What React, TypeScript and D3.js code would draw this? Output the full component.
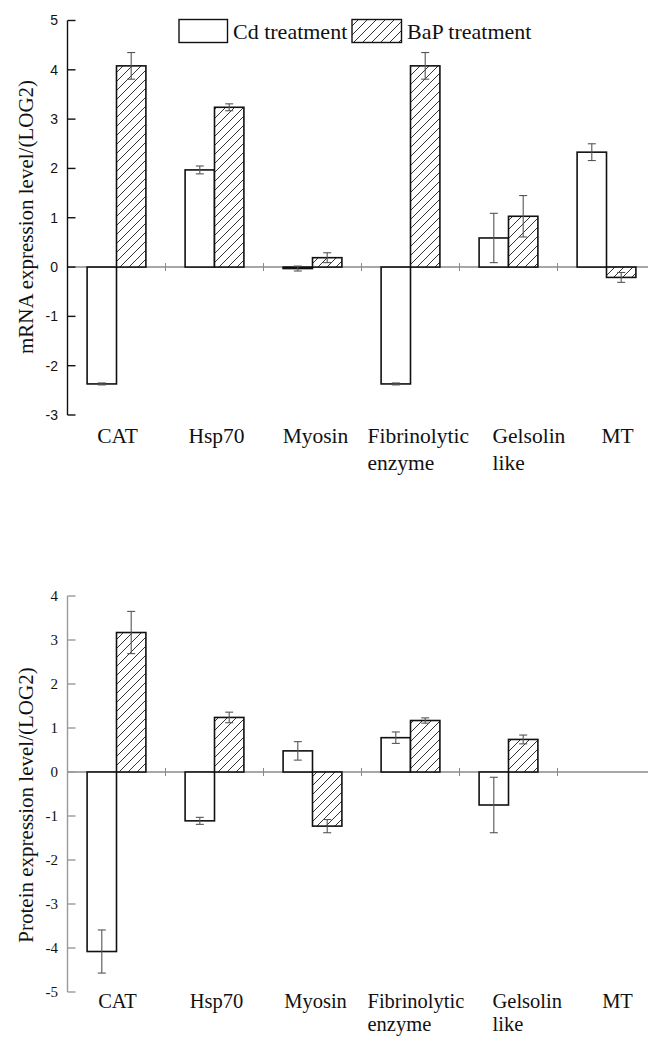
import React from "react";
import * as d3 from "d3";

const categories: string[][] = [["CAT"], ["Hsp70"], ["Myosin"], ["Fibrinolytic", "enzyme"], ["Gelsolin", "like"], ["MT"]];
const seriesNames = ["Cd treatment", "BaP treatment"];

const mrnaCd = [-2.37, 1.97, -0.03, -2.37, 0.59, 2.33];
const mrnaCdErr = [0.02, 0.08, 0.05, 0.02, 0.5, 0.17];
const mrnaBaP = [4.08, 3.24, 0.19, 4.08, 1.03, -0.21];
const mrnaBaPErr = [0.27, 0.07, 0.1, 0.27, 0.42, 0.1];

const protCd: (number | null)[] = [-4.08, -1.11, 0.48, 0.78, -0.75, null];
const protCdErr: (number | null)[] = [0.49, 0.08, 0.21, 0.13, 0.63, null];
const protBaP: (number | null)[] = [3.17, 1.24, -1.23, 1.17, 0.74, null];
const protBaPErr: (number | null)[] = [0.48, 0.12, 0.15, 0.06, 0.1, null];

const mrnaTicks = [-3, -2, -1, 0, 1, 2, 3, 4, 5];
const protTicks = [-5, -4, -3, -2, -1, 0, 1, 2, 3, 4];

// layout for category labels (relative to category centre)
const labelLayout = [
  { anchor: "middle", dx: 1 },
  { anchor: "middle", dx: 2 },
  { anchor: "middle", dx: 3 },
  { anchor: "start", dx: -43 },
  { anchor: "start", dx: -16 },
  { anchor: "middle", dx: 11 },
];

const SERIF = "'Liberation Serif', 'Times New Roman', serif";
const SANS = "'Liberation Sans', Arial, sans-serif";

type PanelProps = {
  cd: (number | null)[];
  cdErr: (number | null)[];
  bap: (number | null)[];
  bapErr: (number | null)[];
  ticks: number[];
  yTop: number;
  yBottom: number;
  yLabel: string;
  yLabelCenter: number;
  axisColor: string;
  tickFont: string;
  tickSize: number;
  catBaseline: number;
  catLineGap: number;
  catSize: number;
};

function Panel(p: PanelProps) {
  const x0 = 67.5;
  const step = 98;
  const xBand = d3
    .scaleBand<number>()
    .domain(categories.map((_, i) => i))
    .range([x0, x0 + step * categories.length])
    .padding(0);
  const inner = d3
    .scaleBand<number>()
    .domain([0, 1])
    .range([step * 0.2, step * 0.8])
    .padding(0);
  const y = d3
    .scaleLinear()
    .domain([p.ticks[0], p.ticks[p.ticks.length - 1]])
    .range([p.yBottom, p.yTop]);
  const zero = y(0);

  const series = [
    { vals: p.cd, errs: p.cdErr, fill: "#fff" },
    { vals: p.bap, errs: p.bapErr, fill: "url(#hatch)" },
  ];

  return (
    <g>
      <line x1={x0} x2={648} y1={zero} y2={zero} stroke="#8a8a8a" strokeWidth={1.4} />
      {categories.slice(1).map((_, i) => {
        const xx = xBand(i + 1)!;
        return <line key={"ct" + i} x1={xx} x2={xx} y1={zero - 4} y2={zero + 4} stroke="#8a8a8a" strokeWidth={1} />;
      })}
      {series.map((s, si) =>
        s.vals.map((v, i) => {
          if (v === null) return null;
          const bx = xBand(i)! + inner(si)!;
          const bw = inner.bandwidth();
          const top = Math.min(y(v), zero);
          const h = Math.abs(y(v) - zero);
          return (
            <rect key={`b${si}-${i}`} x={bx} y={top} width={bw} height={h} fill={s.fill} stroke="#111" strokeWidth={1.6} />
          );
        })
      )}
      {series.map((s, si) =>
        s.vals.map((v, i) => {
          const e = s.errs[i];
          if (v === null || e === null) return null;
          const cx = xBand(i)! + inner(si)! + inner.bandwidth() / 2;
          const y1 = y(v + e);
          const y2 = y(v - e);
          return (
            <g key={`e${si}-${i}`} stroke="#555" strokeWidth={1.1}>
              <line x1={cx} x2={cx} y1={y1} y2={y2} />
              <line x1={cx - 4} x2={cx + 4} y1={y1} y2={y1} />
              <line x1={cx - 4} x2={cx + 4} y1={y2} y2={y2} />
            </g>
          );
        })
      )}
      <line x1={x0} x2={x0} y1={y(p.ticks[0])} y2={y(p.ticks[p.ticks.length - 1])} stroke={p.axisColor} strokeWidth={1.4} />
      {p.ticks.map((t) => (
        <g key={"t" + t}>
          <line x1={x0} x2={x0 + 8} y1={y(t)} y2={y(t)} stroke={p.axisColor} strokeWidth={1.4} />
          <text
            x={58}
            y={y(t)}
            dy="0.35em"
            textAnchor="end"
            fontFamily={p.tickFont}
            fontSize={p.tickSize}
            fill="#111"
          >
            {t}
          </text>
        </g>
      ))}
      <text
        transform={`translate(33,${p.yLabelCenter}) rotate(-90)`}
        textAnchor="middle"
        fontFamily={SERIF}
        fontSize={21}
        fill="#111"
      >
        {p.yLabel}
      </text>
      {categories.map((lines, i) => {
        const c = xBand(i)! + step / 2 + labelLayout[i].dx;
        return (
          <text key={"c" + i} fontFamily={SERIF} fontSize={p.catSize} fill="#111" textAnchor={labelLayout[i].anchor as any}>
            {lines.map((ln, li) => (
              <tspan key={li} x={c} y={p.catBaseline + li * p.catLineGap}>
                {ln}
              </tspan>
            ))}
          </text>
        );
      })}
    </g>
  );
}

export default function App() {
  return (
    <svg
      width={648}
      height={1040}
      style={{ position: "absolute", left: 0, top: 0, background: "#fff" }}
    >
      <defs>
        <pattern id="hatch" patternUnits="userSpaceOnUse" width={9} height={9}>
          <rect width={9} height={9} fill="#fff" />
          <path d="M-1,10 L10,-1 M-2,2 L2,-2 M7,11 L11,7" stroke="#333" strokeWidth={1} />
        </pattern>
      </defs>
      <rect width={648} height={1040} fill="#fff" />
      <g fontFamily={SERIF} fontSize={22} fill="#111">
        <rect x={179} y={19.5} width={48.5} height={23} fill="#fff" stroke="#111" strokeWidth={1.4} />
        <text x={233} y={38.5}>{seriesNames[0]}</text>
        <rect x={352} y={19.5} width={49.5} height={23} fill="url(#hatch)" stroke="#111" strokeWidth={1.4} />
        <text x={407} y={38.5}>{seriesNames[1]}</text>
      </g>
      <Panel
        cd={mrnaCd}
        cdErr={mrnaCdErr}
        bap={mrnaBaP}
        bapErr={mrnaBaPErr}
        ticks={mrnaTicks}
        yTop={20.5}
        yBottom={415}
        yLabel="mRNA expression level/(LOG2)"
        yLabelCenter={217}
        axisColor="#111"
        tickFont={SANS}
        tickSize={14}
        catBaseline={443}
        catLineGap={27}
        catSize={21.5}
      />
      <Panel
        cd={protCd}
        cdErr={protCdErr}
        bap={protBaP}
        bapErr={protBaPErr}
        ticks={protTicks}
        yTop={596}
        yBottom={992}
        yLabel="Protein expression level/(LOG2)"
        yLabelCenter={805}
        axisColor="#9a9a9a"
        tickFont={SERIF}
        tickSize={15}
        catBaseline={1008}
        catLineGap={23}
        catSize={20.5}
      />
    </svg>
  );
}
